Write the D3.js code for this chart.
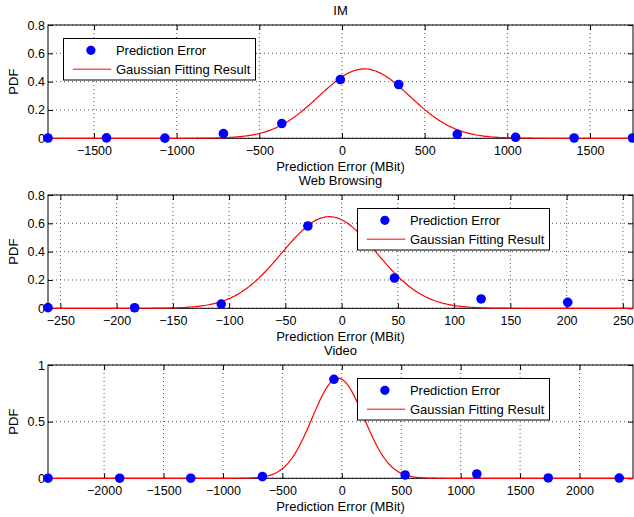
<!DOCTYPE html>
<html>
<head>
<meta charset="utf-8">
<script src="https://cdn.jsdelivr.net/npm/d3@7"></script>
<style>
  body { margin: 0; background: #fff; }
  svg { font-family: "Liberation Sans", Arial, sans-serif; }
  .tick text { font-size: 12.5px; fill: #000; }
  .tick line { stroke: #000; }
</style>
</head>
<body>
<svg id="chart" width="634" height="517"></svg>
<script>
// panel titles
var titles = ["IM", "Web Browsing", "Video"];

// IM histogram points
var imX = [-1778, -1424, -1071, -717, -364, -10, 343, 697, 1050, 1404, 1757];
var imY = [0.002, 0.003, 0.001, 0.033, 0.104, 0.415, 0.38, 0.028, 0.007, 0.002, 0.002];

// Web browsing histogram points
var webX = [-261, -184, -107, -30, 47, 124, 201];
var webY = [0.005, 0.004, 0.03, 0.581, 0.214, 0.066, 0.042];

// Video histogram points
var vidX = [-2472, -1869, -1271, -668, -66, 533, 1136, 1737, 2334];
var vidY = [0.001, 0.001, 0.001, 0.015, 0.874, 0.029, 0.038, 0.003, 0.002];

// gaussian fit parameters (mean, sigma, peak height) per panel
var fitMu = [135, -11, -31];
var fitSigma = [275, 42, 217];
var fitPeak = [0.49, 0.647, 0.883];

// axis ranges and ticks
var xDomains = [[-1778, 1760], [-261, 259], [-2472, 2450]];
var yMax = [0.8, 0.8, 1];
var xTicks = [
	[-1500, -1000, -500, 0, 500, 1000, 1500],
	[-250, -200, -150, -100, -50, 0, 50, 100, 150, 200, 250],
	[-2000, -1500, -1000, -500, 0, 500, 1000, 1500, 2000]
];
var yTicks = [
	[0, 0.2, 0.4, 0.6, 0.8],
	[0, 0.2, 0.4, 0.6, 0.8],
	[0, 0.5, 1]
];

var seriesX = [imX, webX, vidX];
var seriesY = [imY, webY, vidY];

var left = 48, right = 633, plotH = 113.3;
var tops = [25, 195, 365];
var legendLeft = [63.5, 357.5, 357.5];
var fmt = d3.format("~g");

var svg = d3.select("#chart");

titles.forEach(function(title, i) {
	var top = tops[i], bottom = top + plotH;

	var x = d3.scaleLinear().domain(xDomains[i]).range([left, right]);
	var y = d3.scaleLinear().domain([0, yMax[i]]).range([bottom, top]);

	var g = svg.append("g");

	// dotted grid
	g.selectAll(".vgrid")
		.data(xTicks[i])
		.enter().append("line")
		.attr("x1", function(d) { return x(d); })
		.attr("x2", function(d) { return x(d); })
		.attr("y1", top)
		.attr("y2", bottom)
		.attr("stroke", "#555")
		.attr("stroke-dasharray", "1,3");

	g.selectAll(".hgrid")
		.data(yTicks[i])
		.enter().append("line")
		.attr("x1", left)
		.attr("x2", right)
		.attr("y1", function(d) { return y(d); })
		.attr("y2", function(d) { return y(d); })
		.attr("stroke", "#555")
		.attr("stroke-dasharray", "1,3");

	// axes: ticks point inwards on all four sides
	var bx = g.append("g")
		.attr("transform", "translate(0," + bottom + ")")
		.call(d3.axisBottom(x).tickValues(xTicks[i]).tickFormat(fmt).tickSizeInner(-5).tickSizeOuter(0).tickPadding(8));
	bx.select(".domain").remove();
	bx.selectAll("text").attr("font-size", null);

	var tx = g.append("g")
		.attr("transform", "translate(0," + top + ")")
		.call(d3.axisTop(x).tickValues(xTicks[i]).tickFormat("").tickSizeInner(-5).tickSizeOuter(0));
	tx.select(".domain").remove();

	var ly = g.append("g")
		.attr("transform", "translate(" + left + ",0)")
		.call(d3.axisLeft(y).tickValues(yTicks[i]).tickFormat(fmt).tickSizeInner(-5).tickSizeOuter(0).tickPadding(3));
	ly.select(".domain").remove();

	var ry = g.append("g")
		.attr("transform", "translate(" + right + ",0)")
		.call(d3.axisRight(y).tickValues(yTicks[i]).tickFormat("").tickSizeInner(-5).tickSizeOuter(0));
	ry.select(".domain").remove();

	g.selectAll(".tick text").attr("font-family", null).attr("font-size", null);

	// box
	g.append("rect")
		.attr("x", left)
		.attr("y", top)
		.attr("width", right - left)
		.attr("height", plotH)
		.attr("fill", "none")
		.attr("stroke", "#000")
		.attr("stroke-width", 1);

	// gaussian fit curve
	var d0 = xDomains[i][0], d1 = xDomains[i][1];
	var xs = d3.range(0, 401).map(function(k) { return d0 + (d1 - d0) * k / 400; });
	var line = d3.line()
		.x(function(v) { return x(v); })
		.y(function(v) {
			var z = (v - fitMu[i]) / fitSigma[i];
			return y(fitPeak[i] * Math.exp(-0.5 * z * z));
		});
	g.append("path")
		.datum(xs)
		.attr("d", line)
		.attr("fill", "none")
		.attr("stroke", "#f00")
		.attr("stroke-width", 1.2);

	// histogram points
	g.selectAll(".pt")
		.data(seriesX[i])
		.enter().append("circle")
		.attr("cx", function(d) { return x(d); })
		.attr("cy", function(d, j) { return y(seriesY[i][j]); })
		.attr("r", 4.8)
		.attr("fill", "#00f");

	// title and labels
	g.append("text")
		.attr("x", (left + right) / 2)
		.attr("y", top - 10)
		.attr("text-anchor", "middle")
		.attr("font-size", 13)
		.text(title);

	g.append("text")
		.attr("x", (left + right) / 2)
		.attr("y", bottom + 33)
		.attr("text-anchor", "middle")
		.attr("font-size", 13)
		.text("Prediction Error (MBit)");

	g.append("text")
		.attr("transform", "translate(18," + (top + plotH / 2) + ") rotate(-90)")
		.attr("text-anchor", "middle")
		.attr("font-size", 13)
		.text("PDF");

	// legend
	var lg = g.append("g")
		.attr("transform", "translate(" + legendLeft[i] + "," + (top + 13.5) + ")");
	lg.append("rect")
		.attr("width", 192)
		.attr("height", 41.5)
		.attr("fill", "#fff")
		.attr("stroke", "#000");
	lg.append("circle")
		.attr("cx", 27.4)
		.attr("cy", 11.8)
		.attr("r", 4.6)
		.attr("fill", "#00f");
	lg.append("line")
		.attr("x1", 9.4)
		.attr("x2", 47.7)
		.attr("y1", 30.7)
		.attr("y2", 30.7)
		.attr("stroke", "#f00");
	lg.append("text")
		.attr("x", 52.4)
		.attr("y", 16.3)
		.attr("font-size", 13)
		.text("Prediction Error");
	lg.append("text")
		.attr("x", 52.4)
		.attr("y", 35.3)
		.attr("font-size", 13)
		.text("Gaussian Fitting Result");
});
</script>
</body>
</html>
